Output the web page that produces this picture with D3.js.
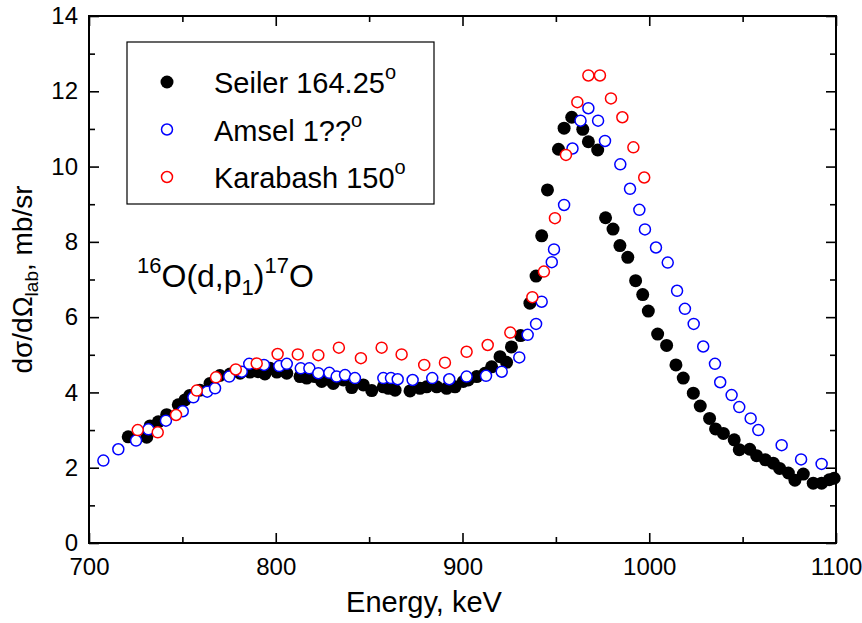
<!DOCTYPE html>
<html>
<head>
<meta charset="utf-8">
<script src="https://cdn.jsdelivr.net/npm/d3@7"></script>
<style>
  body { margin: 0; background: #fff; }
  svg text { font-family: "Liberation Sans", Arial, sans-serif; fill: #000; }
</style>
</head>
<body>
<div id="chart"></div>
<script>
'use strict';

// Seiler 164.25 deg (filled black)
const seilerE = [721, 730.9, 732.7, 737.1, 741.6, 747.8, 751.4, 754, 759.4, 764.8, 770.1, 775.5, 780.9, 786.2,
  790.5, 794.2, 796.9, 800.6, 805.9, 813, 816.6, 821, 824.6, 827.4, 830.8, 836.2, 840.7, 846.9, 851.4, 857.6,
  860.3, 863.9, 871.9, 877.2, 880.8, 886.2, 891.5, 896, 900.4, 903.1, 907.6, 912, 915.6, 920.1, 923.6, 926.2,
  931.1, 936.1, 939.4, 942.4, 945.5, 951.4, 954.4, 958.5, 964.4, 967.4, 972.4, 976.6, 980.6, 984.3, 988.5,
  992.7, 996.5, 999.5, 1004.5, 1009.3, 1014.3, 1018.2, 1023.6, 1027.3, 1032.3, 1035.5, 1039.7, 1045.5, 1048.2,
  1053.8, 1057.5, 1062.2, 1066.4, 1069.8, 1074.5, 1078, 1082.5, 1087.8, 1092.3, 1096.4, 1099];
const seilerY = [2.82, 2.81, 3.11, 3.22, 3.41, 3.67, 3.8, 3.92, 4.06, 4.24, 4.45, 4.49, 4.51, 4.54,
  4.55, 4.49, 4.64, 4.54, 4.51, 4.42, 4.38, 4.42, 4.29, 4.36, 4.24, 4.33, 4.13, 4.2, 4.05, 4.15,
  4.11, 4.06, 4.04, 4.11, 4.15, 4.15, 4.11, 4.15, 4.29, 4.33, 4.42, 4.51, 4.68, 4.95, 4.8, 5.21,
  5.51, 6.37, 7.09, 8.16, 9.38, 10.46, 11.02, 11.31, 10.99, 10.66, 10.44, 8.64, 8.34, 7.9, 7.59,
  6.97, 6.6, 6.16, 5.55, 5.25, 4.73, 4.38, 3.98, 3.64, 3.31, 3.03, 2.91, 2.74, 2.48,
  2.49, 2.32, 2.21, 2.12, 1.98, 1.86, 1.67, 1.83, 1.59, 1.59, 1.68, 1.72];

// Amsel (open blue)
const amselE = [707.7, 715.7, 725.2, 731.8, 741.2, 750.2, 755.9, 763.3, 767.5, 775.1, 781.8, 785.8, 793.7,
  801.9, 805.9, 813.4, 818, 822.8, 828.7, 832.6, 837.1, 842.4, 857.6, 861.7, 865.3, 873.3, 883.8, 892.9,
  902.2, 912.6, 921, 930.4, 934.9, 939.4, 942.4, 947.8, 949, 954.4, 958.9, 963.2, 967.4, 972.6, 976.3,
  984.5, 989.7, 994.7, 997.7, 1003.6, 1009.9, 1014.9, 1019.1, 1023.8, 1028.9, 1035.2, 1038, 1044.1,
  1048.2, 1054.3, 1058.4, 1070.9, 1081.3, 1092.3];
const amselY = [2.19, 2.49, 2.72, 3.02, 3.25, 3.5, 3.87, 4.02, 4.11, 4.42, 4.55, 4.76, 4.73,
  4.7, 4.76, 4.64, 4.64, 4.51, 4.52, 4.42, 4.46, 4.38, 4.38, 4.38, 4.35, 4.33, 4.38, 4.35,
  4.42, 4.44, 4.55, 4.93, 5.53, 5.82, 6.41, 7.46, 7.8, 8.98, 10.48, 11.22, 11.55, 11.22, 10.68,
  10.06, 9.41, 8.85, 8.33, 7.85, 7.45, 6.7, 6.22, 5.82, 5.22, 4.76, 4.27, 3.93,
  3.61, 3.31, 3.0, 2.6, 2.22, 2.1];

// Karabash 150 deg (open red)
const karabashE = [726.1, 736.8, 746.6, 757.7, 768, 778.6, 789.8, 801, 811.8, 822.8, 833.8, 845.6, 856.7,
  867.4, 879.5, 890.6, 902.2, 913.5, 925.6, 937.4, 943.6, 949.5, 955.4, 961.5, 967.4, 973.6, 979.5,
  985.6, 991.5, 997.3];
const karabashY = [3.0, 2.94, 3.4, 4.05, 4.4, 4.61, 4.77, 5.02, 5.01, 4.99, 5.19, 4.91, 5.19,
  5.01, 4.73, 4.79, 5.08, 5.26, 5.59, 6.53, 7.21, 8.63, 10.31, 11.71, 12.42, 12.42, 11.81,
  11.31, 10.51, 9.71];

const xTicks = [700, 800, 900, 1000, 1100];
const yTicks = [0, 2, 4, 6, 8, 10, 12, 14];

const W = 862, H = 623;
const M = {left: 89, right: 836, top: 16, bottom: 543};

const x = d3.scaleLinear().domain([700, 1100]).range([M.left, M.right]);
const y = d3.scaleLinear().domain([0, 14]).range([M.bottom, M.top]);

const svg = d3.select('#chart').append('svg')
  .attr('width', W).attr('height', H);

const minorX = d3.range(750, 1100, 100);
const minorY = d3.range(1, 14, 2);

function styleAxis(g) {
  g.select('.domain').remove();
  g.selectAll('line').attr('stroke', '#000').attr('stroke-width', 1.6);
  g.selectAll('text').attr('font-size', 24).attr('fill', '#000');
}

// bottom
svg.append('g').attr('transform', 'translate(0,' + M.bottom + ')')
  .call(d3.axisBottom(x).tickValues(xTicks).tickSize(-10).tickPadding(15).tickFormat(d3.format('d')))
  .call(styleAxis);
svg.append('g').attr('transform', 'translate(0,' + M.bottom + ')')
  .call(d3.axisBottom(x).tickValues(minorX).tickSize(-6).tickFormat(''))
  .call(styleAxis);
// top
svg.append('g').attr('transform', 'translate(0,' + M.top + ')')
  .call(d3.axisTop(x).tickValues(xTicks).tickSize(-10).tickFormat(''))
  .call(styleAxis);
svg.append('g').attr('transform', 'translate(0,' + M.top + ')')
  .call(d3.axisTop(x).tickValues(minorX).tickSize(-6).tickFormat(''))
  .call(styleAxis);
// left
svg.append('g').attr('transform', 'translate(' + M.left + ',0)')
  .call(d3.axisLeft(y).tickValues(yTicks).tickSize(-10).tickPadding(11).tickFormat(d3.format('d')))
  .call(styleAxis);
svg.append('g').attr('transform', 'translate(' + M.left + ',0)')
  .call(d3.axisLeft(y).tickValues(minorY).tickSize(-6).tickFormat(''))
  .call(styleAxis);
// right
svg.append('g').attr('transform', 'translate(' + M.right + ',0)')
  .call(d3.axisRight(y).tickValues(yTicks).tickSize(-10).tickFormat(''))
  .call(styleAxis);
svg.append('g').attr('transform', 'translate(' + M.right + ',0)')
  .call(d3.axisRight(y).tickValues(minorY).tickSize(-6).tickFormat(''))
  .call(styleAxis);

// frame
svg.append('rect')
  .attr('x', M.left).attr('y', M.top)
  .attr('width', M.right - M.left).attr('height', M.bottom - M.top)
  .attr('fill', 'none').attr('stroke', '#000').attr('stroke-width', 2);

const plot = svg.append('g');

plot.selectAll('circle.seiler')
  .data(d3.zip(seilerE, seilerY))
  .enter().append('circle')
  .attr('class', 'seiler')
  .attr('cx', d => x(d[0])).attr('cy', d => y(d[1]))
  .attr('r', 6.5).attr('fill', '#000');

plot.selectAll('circle.amsel')
  .data(d3.zip(amselE, amselY))
  .enter().append('circle')
  .attr('class', 'amsel')
  .attr('cx', d => x(d[0])).attr('cy', d => y(d[1]))
  .attr('r', 5.5).attr('fill', '#fff').attr('stroke', '#0000ff').attr('stroke-width', 1.5);

plot.selectAll('circle.karabash')
  .data(d3.zip(karabashE, karabashY))
  .enter().append('circle')
  .attr('class', 'karabash')
  .attr('cx', d => x(d[0])).attr('cy', d => y(d[1]))
  .attr('r', 5.5).attr('fill', '#fff').attr('stroke', '#ff0000').attr('stroke-width', 1.5);

// legend
const legend = svg.append('g');
legend.append('rect')
  .attr('x', 127).attr('y', 42).attr('width', 307).attr('height', 162)
  .attr('fill', '#fff').attr('stroke', '#000').attr('stroke-width', 1.2);

const legendItems = [
  {label: 'Seiler 164.25', fill: '#000', stroke: 'none', r: 6.5},
  {label: 'Amsel 1??', fill: '#fff', stroke: '#0000ff', r: 5.5},
  {label: 'Karabash 150', fill: '#fff', stroke: '#ff0000', r: 5.5}
];
legendItems.forEach((it, i) => {
  const cy = 82 + i * 47.5;
  legend.append('circle')
    .attr('cx', 167).attr('cy', cy).attr('r', it.r)
    .attr('fill', it.fill).attr('stroke', it.stroke).attr('stroke-width', 1.5);
  const t = legend.append('text')
    .attr('x', 214).attr('y', cy + 11)
    .attr('font-size', 29);
  t.append('tspan').text(it.label);
  t.append('tspan').attr('font-size', 20).attr('dy', -14).text('o');
});

// annotation
const ann = svg.append('text').attr('x', 137).attr('y', 287).attr('font-size', 32);
ann.append('tspan').attr('font-size', 22).attr('dy', -14).text('16');
ann.append('tspan').attr('dy', 14).text('O(d,p');
ann.append('tspan').attr('font-size', 22).attr('dy', 8).text('1');
ann.append('tspan').attr('dy', -8).text(')');
ann.append('tspan').attr('font-size', 22).attr('dy', -14).text('17');
ann.append('tspan').attr('dy', 14).text('O');

// axis titles
svg.append('text')
  .attr('x', 424).attr('y', 612)
  .attr('text-anchor', 'middle').attr('font-size', 29)
  .text('Energy, keV');

const yl = svg.append('text')
  .attr('transform', 'translate(32,' + ((M.top + M.bottom) / 2) + ') rotate(-90)')
  .attr('text-anchor', 'middle').attr('font-size', 28);
yl.append('tspan').text('dσ/dΩ');
yl.append('tspan').attr('font-size', 19).attr('dy', 6).text('lab');
yl.append('tspan').attr('dy', -6).text(', mb/sr');
</script>
</body>
</html>
